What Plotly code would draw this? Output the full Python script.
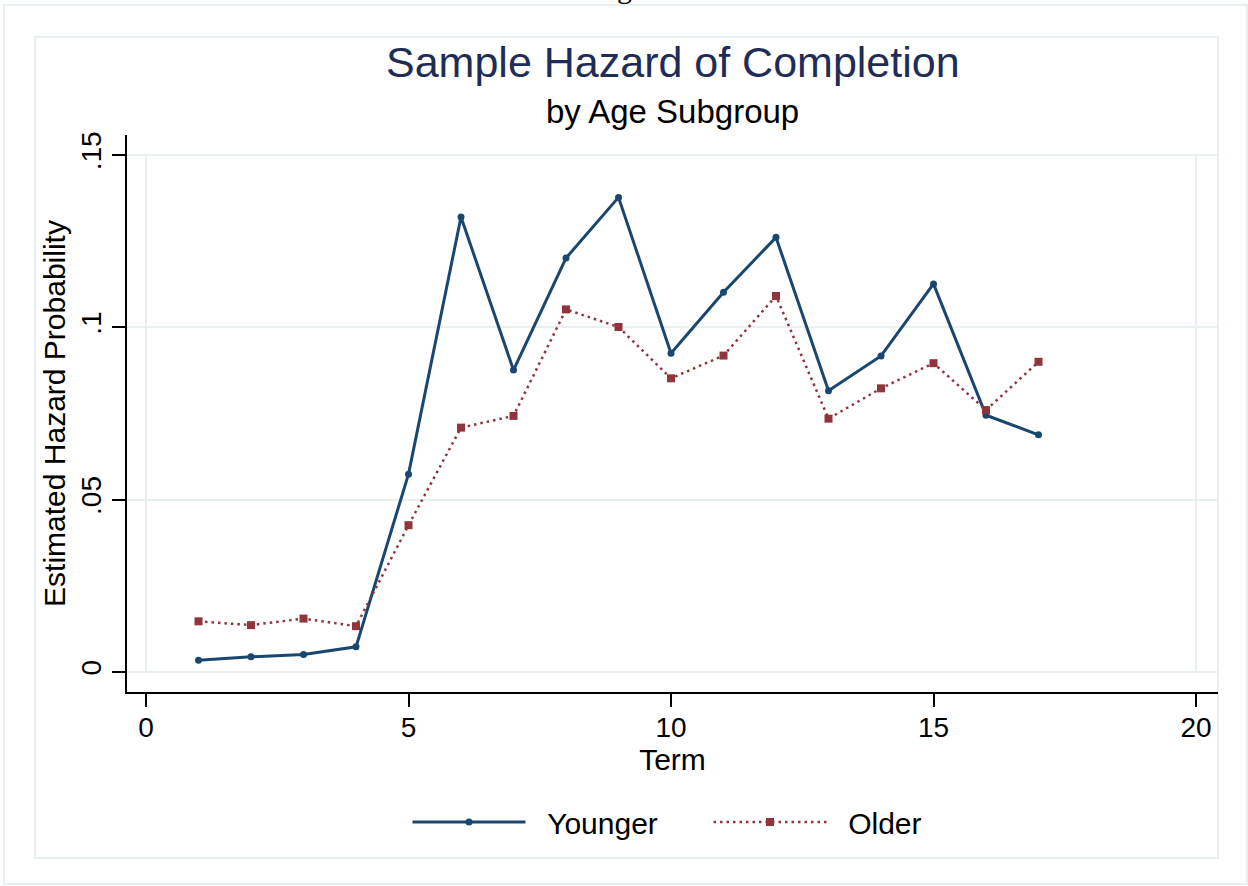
import plotly.graph_objects as go

terms = list(range(1, 18))
younger = [0.0034, 0.0044, 0.0051, 0.0073, 0.0574, 0.1320, 0.0876, 0.1201, 0.1377,
           0.0925, 0.1102, 0.1261, 0.0816, 0.0917, 0.1126, 0.0745, 0.0688]
older = [0.0147, 0.0136, 0.0155, 0.0133, 0.0426, 0.0709, 0.0743, 0.1052, 0.1001,
         0.0852, 0.0918, 0.1091, 0.0735, 0.0823, 0.0896, 0.0760, 0.0900]
y_ticks = [0, 0.05, 0.1, 0.15]
y_ticktext = ["0", ".05", ".1", ".15"]
x_ticks = [0, 5, 10, 15, 20]

W, H = 1248, 886
L, R, T, B = 127, 1218, 135, 692
def px(x):
    return (x - L) / (R - L)
def py(y):
    return (B - y) / (B - T)

GRID = "#e8f0f2"
FONT = "Liberation Sans, Arial, sans-serif"
NB = "\u00a0\u00a0"

fig = go.Figure()
fig.add_trace(go.Scatter(x=terms, y=younger, name=NB + "Younger", mode="lines+markers",
                         line=dict(color="#1a476f", width=3),
                         marker=dict(symbol="circle", size=7, color="#1a476f")))
fig.add_trace(go.Scatter(x=terms, y=older, name=NB + "Older", mode="lines+markers",
                         line=dict(color="#90353b", width=2.5, dash="2.5px,4px"),
                         marker=dict(symbol="square", size=8, color="#90353b")))

shapes = [
    dict(type="rect", xref="paper", yref="paper", x0=px(4), x1=px(1247), y0=py(884), y1=py(5),
         line=dict(color=GRID, width=2), layer="below"),
    dict(type="rect", xref="paper", yref="paper", x0=px(35), x1=px(1218), y0=py(858), y1=py(37),
         line=dict(color=GRID, width=2), layer="below"),
    dict(type="rect", xref="x", yref="y", x0=0, x1=20, y0=0, y1=0.15,
         line=dict(color=GRID, width=2), layer="below"),
]

annotations = [
    dict(text="Sample Hazard of Completion", xref="paper", yref="paper", x=0.5, y=py(62),
         xanchor="center", yanchor="middle", showarrow=False,
         font=dict(family=FONT, size=43, color="#1f2d56")),
    dict(text="by Age Subgroup", xref="paper", yref="paper", x=0.5, y=py(112),
         xanchor="center", yanchor="middle", showarrow=False,
         font=dict(family=FONT, size=33, color="black")),
    dict(text="g", xref="paper", yref="paper", x=px(624), y=py(6),
         xanchor="center", yanchor="bottom", showarrow=False,
         font=dict(family="Liberation Serif, serif", size=30, color="black")),
]

fig.update_layout(
    width=W, height=H,
    margin=dict(l=L, r=W - R, t=T, b=H - B, pad=0),
    paper_bgcolor="white", plot_bgcolor="white",
    font=dict(family=FONT, color="black"),
    shapes=shapes, annotations=annotations,
    showlegend=True,
    legend=dict(orientation="h", x=px(672.5 + 36), xanchor="center", y=py(822), yanchor="middle",
                font=dict(family=FONT, size=30), itemwidth=113, tracegroupgap=0,
                entrywidth=173, entrywidthmode="pixels",
                bgcolor="rgba(0,0,0,0)"),
    xaxis=dict(range=[-0.362, 20.419], tickvals=x_ticks, ticks="outside", ticklen=13,
               tickwidth=2, tickcolor="black", showline=True, linecolor="black", linewidth=2,
               showgrid=False, zeroline=False, tickfont=dict(size=28),
               ticklabelstandoff=-4,
               title=dict(text="Term", font=dict(size=30), standoff=0)),
    yaxis=dict(range=[-0.0058, 0.1558], tickvals=y_ticks, ticktext=y_ticktext,
               ticks="outside", ticklen=13, tickwidth=2, tickcolor="black",
               showline=True, linecolor="black", linewidth=2, tickangle=-90,
               showgrid=True, gridcolor=GRID, gridwidth=2, zeroline=False,
               tickfont=dict(size=28),
               title=dict(text="Estimated Hazard Probability", font=dict(size=30), standoff=1)),
)

fig.write_html("out.html", config={"displayModeBar": False},
               post_script="document.body.style.margin='0';")
